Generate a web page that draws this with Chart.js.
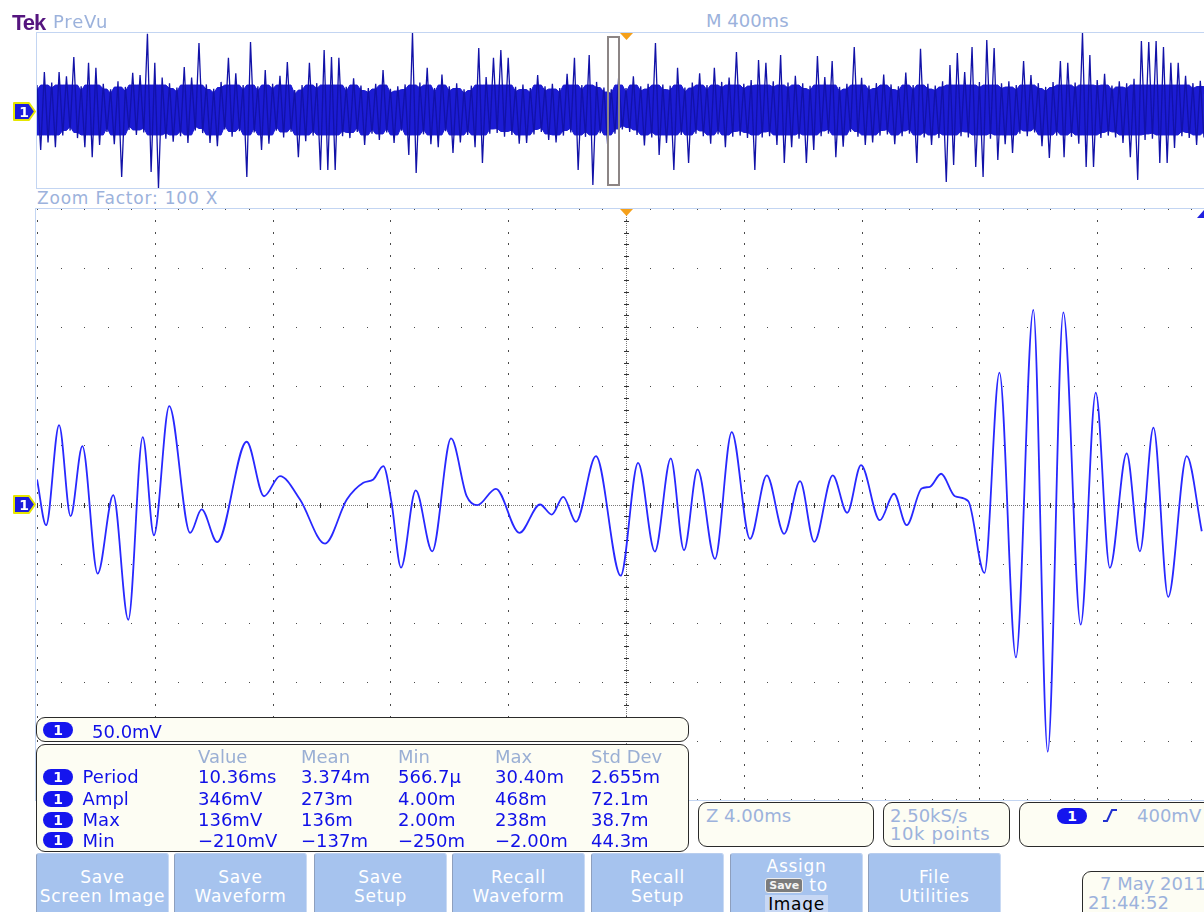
<!DOCTYPE html>
<html><head><meta charset="utf-8">
<script src="https://cdn.jsdelivr.net/npm/chart.js@4.4.0/dist/chart.umd.min.js"></script>
<style>
html,body{margin:0;padding:0;}
body{width:1204px;height:912px;overflow:hidden;position:relative;background:#fff;font-family:'DejaVu Sans',sans-serif;}
.a{position:absolute;white-space:nowrap;line-height:1;}
.lb{color:#9cb2dc;}
.box{position:absolute;border:1.5px solid #2a2a2a;border-radius:9px;background:#fdfdf3;box-sizing:border-box;}
.btn{position:absolute;top:853px;width:133px;height:70px;background:#a6c3ee;border-left:1px solid #8e9fbd;border-right:1px solid #c9daf4;border-top:1px solid #b8cdee;border-radius:3px 3px 0 0;box-sizing:border-box;color:#fff;text-align:center;font-size:17px;letter-spacing:0.7px;line-height:19px;padding-top:14px;}
.oval{position:absolute;width:30px;height:16px;border-radius:8px;background:#1515ee;color:#fff;font-weight:bold;font-size:14px;line-height:16px;text-align:center;}
.frame{position:absolute;background:#c3d5f2;}
</style></head><body>

<canvas id="prevu" class="a" width="1167" height="156" style="left:37px;top:32px;width:1167px;height:156px;"></canvas>
<canvas id="main" class="a" width="1167" height="591" style="left:37px;top:209px;width:1167px;height:591px;"></canvas>

<!-- frames -->
<div class="frame" style="left:36px;top:32px;width:1168px;height:1px;"></div>
<div class="frame" style="left:36px;top:188px;width:1168px;height:1px;"></div>
<div class="frame" style="left:36px;top:32px;width:1px;height:157px;"></div>
<div class="frame" style="left:36px;top:208px;width:1168px;height:1px;"></div>
<div class="frame" style="left:35px;top:208px;width:1px;height:593px;"></div>
<div class="frame" style="left:36px;top:800px;width:1168px;height:1px;"></div>
<div class="a" style="left:607px;top:36px;width:9px;height:146px;border:2px solid #8c8585;"></div>

<!-- header text -->
<div class="a" style="left:12px;top:11.5px;font-family:'Liberation Sans';font-weight:bold;font-size:22px;letter-spacing:-1px;color:#55157f;">Tek</div>
<div class="a lb" style="left:53px;top:13px;font-size:18px;letter-spacing:0.8px;">PreVu</div>
<div class="a lb" style="left:706px;top:12px;font-size:18px;">M 400ms</div>
<div class="a lb" style="left:37px;top:190px;font-size:17px;letter-spacing:0.8px;">Zoom Factor: 100 X</div>

<!-- bottom boxes -->
<div class="box" style="left:36px;top:717px;width:653px;height:25px;"></div>
<div class="oval" style="left:43px;top:722px;">1</div>
<div class="a" style="left:92px;top:722.6px;font-size:18px;color:#1010e8;">50.0mV</div>
<div class="box" id="meas" style="left:36px;top:744px;width:653px;height:108px;"></div>

<div class="box" style="left:698px;top:802px;width:176px;height:45px;"></div>
<div class="a lb" style="left:706px;top:806.5px;font-size:18px;">Z 4.00ms</div>
<div class="box" style="left:883px;top:802px;width:127px;height:45px;"></div>
<div class="a lb" style="left:890px;top:806.5px;font-size:18px;">2.50kS/s</div>
<div class="a lb" style="left:890px;top:825px;font-size:18px;letter-spacing:0.6px;">10k points</div>
<div class="box" style="left:1019px;top:802px;width:200px;height:45px;"></div>
<div class="oval" style="left:1057px;top:808px;">1</div>
<div class="a lb" style="left:1137px;top:806.5px;font-size:18px;">400mV</div>
<div class="box" style="left:1082px;top:871px;width:140px;height:50px;"></div>
<div class="a lb" style="left:1100px;top:875px;font-size:18px;">7 May 2011</div>
<div class="a lb" style="left:1088px;top:894px;font-size:18px;">21:44:52</div>

<svg class="a" style="left:0;top:0;z-index:5" width="1204" height="912">
  <polygon points="620,33 633,33 626.5,40" fill="#f5a01a"/>
  <polygon points="620,209 633,209 626.5,216" fill="#f5a01a"/>
  <polygon points="1204,210 1204,218 1197,218" fill="#2020e0"/>
  <polygon points="14,103 29,103 35,111.5 29,120 14,120" fill="#1c1cdc" stroke="#e6e600" stroke-width="2" stroke-linejoin="round"/>
  <text x="24" y="117" fill="#fff" font-family="DejaVu Sans" font-weight="bold" font-size="14" text-anchor="middle">1</text>
  <polygon points="14,496 29,496 35,504.5 29,513 14,513" fill="#1c1cdc" stroke="#e6e600" stroke-width="2" stroke-linejoin="round"/>
  <text x="24" y="510" fill="#fff" font-family="DejaVu Sans" font-weight="bold" font-size="14" text-anchor="middle">1</text>
  <polyline points="1103,821 1107,821 1112,810 1117,810" fill="none" stroke="#2030d0" stroke-width="2"/>
</svg>

<script>
// ---------------- DATA ----------------
// PreVu (overview) record: sample values in mV, one every 12.5 ms starting at -2 s
const prevuStart = -2.0;      // s
const prevuStep = 0.0125;     // s
const prevuValues = [
 80,-128,122,-104,88,-119,122,-82,108,-66,170,-90,76,-119,151,-151,135,-112,84,-70,
 66,-110,92,-215,74,-64,119,-80,112,-72,244,-199,151,-250,104,-92,86,-102,72,-84,
 138,-106,104,-66,215,-74,82,-106,68,-116,90,-62,167,-86,118,-68,80,-215,218,-72,
 76,-128,128,-108,84,-66,110,-88,154,-70,64,-151,80,-100,151,-82,86,-192,192,-192,
 170,-192,167,-84,74,-90,102,-70,78,-112,70,-76,84,-96,128,-72,68,-106,76,-66,
 82,-144,247,-202,88,-78,135,-110,70,-119,114,-68,76,-138,86,-104,66,-80,78,-119,
 199,-170,106,-76,167,-74,192,-86,167,-80,74,-108,82,-106,70,-78,112,-70,76,-96,
 84,-104,70,-82,116,-72,167,-192,80,-86,176,-240,90,-74,72,-110,66,-76,104,-62,
 70,-70,108,-80,76,-114,84,-88,215,-144,82,-106,78,-192,135,-80,72,-170,88,-76,
 118,-84,80,-108,135,-78,90,-119,104,-86,186,-82,84,-90,96,-192,160,-88,151,-84,
 92,-112,176,-170,88,-119,110,-92,86,-170,78,-128,173,-84,106,-76,157,-151,74,-118,
 84,-70,202,-86,103,-112,78,-104,86,-82,114,-78,82,-110,76,-84,120,-76,80,-170,
 196,-88,84,-112,78,-90,92,-231,144,-176,183,-84,122,-88,202,-183,90,-215,224,-92,
 199,-160,86,-110,92,-138,80,-76,157,-84,112,-72,86,-116,74,-154,90,-82,157,-151,
 151,-86,88,-108,247,-183,176,-183,96,-90,116,-82,78,-88,92,-106,86,-151,100,-224,
 221,-96,218,-92,221,-170,202,-170,151,-122,151,-84,110,-90,86,-112,94,-88
];

// Zoomed window: turning points of the trace (time in ms, voltage in mV)
const mainTimes = [
 -20.00,-19.69,-19.25,-18.86,-18.46,-17.94,-17.41,-16.90,-16.41,-16.03,
 -15.51,-14.80,-14.41,-13.88,-12.88,-12.29,-11.75,-11.07,-10.22,-9.48,
 -8.92,-8.58,-8.24,-7.96,-7.64,-7.14,-6.58,-5.94,-5.41,-5.05,
 -4.42,-3.62,-2.92,-2.52,-2.13,-1.70,-1.02,-0.18,0.41,0.98,
 1.52,1.97,2.43,3.02,3.59,4.21,4.78,5.37,5.91,6.39,
 7.02,7.51,7.98,8.62,9.10,9.53,10.04,10.32,10.70,11.17,
 11.62,12.17,12.68,13.24,13.83,14.32,14.85,15.44,15.95,16.43,
 17.00,17.45,17.91,18.41,19.04,19.55
];
const mainVolts = [
 21.2,-17.5,67.2,-9.9,49.4,-58.5,7.9,-97.5,57.0,-26.0,
 83.3,-24.0,-4.2,-31.9,53.1,7.0,24.0,4.2,-33.1,4.2,
 18.4,21.2,32.5,1.4,-53.4,11.9,-39.6,55.9,7.0,-0.6,
 13.3,-24.0,0.0,-8.5,6.5,-14.7,40.9,-60.2,35.3,-39.8,
 39.0,-38.7,29.7,-46.0,61.3,-29.1,24.6,-24.8,19.7,-31.6,
 24.6,-7.0,33.3,-13.3,9.1,-17.5,13.6,15.0,26.0,7.0,
 2.8,-57.9,111.6,-129.4,164.7,-209.1,162.5,-101.7,94.7,-53.6,
 43.2,-39.6,65.0,-78.2,40.9,-22.6
];

// Measurement readout
const measHeaders = ['Value','Mean','Min','Max','Std Dev'];
const measNames = ['Period','Ampl','Max','Min'];
const measPeriod = ['10.36ms','3.374m','566.7\u03bc','30.40m','2.655m'];
const measAmpl   = ['346mV','273m','4.00m','468m','72.1m'];
const measMax    = ['136mV','136m','2.00m','238m','38.7m'];
const measMin    = ['\u2212210mV','\u2212137m','\u2212250m','\u22122.00m','44.3m'];
const buttonLabels = ['Save<br>Screen Image','Save<br>Waveform','Save<br>Setup','Recall<br>Waveform','Recall<br>Setup','','File<br>Utilities'];

// ---------------- DOM text ----------------
const colX = [198,301,398,495,591];
const rowTop = [768,790.3,811.3,831.8];
function txt(s, x, top, size, color){
  const d=document.createElement('div'); d.className='a';
  d.style.cssText=`left:${x}px;top:${top}px;font-size:${size}px;color:${color};`;
  d.innerHTML=s; document.body.appendChild(d); return d;
}
measHeaders.forEach((h,i)=>txt(h,colX[i],747.6,18,'#9aafd4'));
const measRows=[measPeriod,measAmpl,measMax,measMin];
measNames.forEach((n,r)=>{
  const o=document.createElement('div'); o.className='oval';
  o.style.left='43px'; o.style.top=(rowTop[r]+0.5)+'px'; o.textContent='1'; document.body.appendChild(o);
  txt(n,82.6,rowTop[r],18,'#1010e8');
  measRows[r].forEach((v,c)=>txt(v,colX[c],rowTop[r],18,'#1010e8'));
});
const btnLeft=[36,174,314,452,591,730,868];
buttonLabels.forEach((l,i)=>{
  const b=document.createElement('div'); b.className='btn';
  b.style.left=btnLeft[i]+'px'; b.innerHTML=l;
  if(i===5){
    b.style.paddingTop='0px';
    b.innerHTML='<div style="margin-top:3px">Assign</div>'+
     '<div style="margin-top:0px"><span style="display:inline-block;background:#7c7c7c;color:#f4f4f4;font-size:11px;line-height:13px;padding:0 3px;border-radius:3px;border:1px solid #eee;font-weight:bold;letter-spacing:0;vertical-align:2px">Save</span> to</div>'+
     '<div style="display:inline-block;background:#c8d8f4;color:#000;padding:0 3px;margin-top:0px">Image</div>';
  }
  document.body.appendChild(b);
});

// ---------------- Charts ----------------
const noUI={legend:{display:false},tooltip:{enabled:false}};
const prevuPts = prevuValues.map((v,i)=>({x:prevuStart+i*prevuStep,y:v}));
// dense core of the decimated record: local envelope of neighbouring samples
const nb = (i)=>prevuValues.slice(Math.max(0,i-1),i+2);
const coreUpper = prevuValues.map((v,i)=>({x:prevuStart+i*prevuStep,y:Math.min(Math.max(...nb(i)),100)*0.8}));
const coreLower = prevuValues.map((v,i)=>({x:prevuStart+i*prevuStep,y:Math.max(Math.min(...nb(i)),-100)*0.8}));
new Chart(document.getElementById('prevu'),{
  type:'line',
  data:{datasets:[
    {data:prevuPts,borderColor:'#1212a8',borderWidth:1.3,pointRadius:0,tension:0,fill:false},
    {data:coreUpper,borderColor:'#1a1ad0',borderWidth:1,pointRadius:0,tension:0,fill:'+1',backgroundColor:'#1c1cd4'},
    {data:coreLower,borderColor:'#1a1ad0',borderWidth:1,pointRadius:0,tension:0,fill:false}
  ]},
  options:{responsive:false,animation:false,devicePixelRatio:1,events:[],
    layout:{padding:0},plugins:noUI,clip:false,
    scales:{x:{type:'linear',min:-2,max:1.9626,display:false},
            y:{type:'linear',min:-250,max:250,display:false}}}
});

const graticule={
  id:'graticule',
  beforeDatasetsDraw(chart){
    const {ctx,chartArea:a,scales:{x,y}}=chart;
    ctx.save();
    const P=(t)=>Math.round(x.getPixelForValue(t));
    const Q=(v)=>Math.min(Math.round(y.getPixelForValue(v)),a.bottom-1);
    ctx.fillStyle='#4a4a4a';
    for(let r=-5;r<=5;r++){ const py=Q(r*50);
      for(let c=0;c<=50;c++){ ctx.fillRect(P(-20+c*0.8),py,1,1); } }
    for(let c=0;c<=10;c++){ const px=P(-20+c*4);
      for(let r=-25;r<=25;r++){ ctx.fillRect(px,Q(r*10)-1,1,2); } }
    const cx=P(0),cy=Q(0);
    ctx.fillStyle='#7a7a7a';
    for(let px=a.left;px<a.right;px+=2) ctx.fillRect(px,cy,1,1);
    for(let py=a.top;py<a.bottom;py+=2) ctx.fillRect(cx,py,1,1);
    ctx.fillStyle='#333';
    for(let c=0;c<=50;c++){ ctx.fillRect(P(-20+c*0.8),cy-2,1,5); }
    for(let r=-25;r<=25;r++){ ctx.fillRect(cx-2,Q(r*10),5,1); }
    ctx.restore();
  }
};
new Chart(document.getElementById('main'),{
  type:'line',
  data:{datasets:[{
    data: mainTimes.map((t,i)=>({x:t,y:mainVolts[i]})),
    borderColor:'#2828ff',borderWidth:1.8,pointRadius:0,
    cubicInterpolationMode:'monotone',fill:false
  }]},
  options:{responsive:false,animation:false,devicePixelRatio:1,events:[],
    layout:{padding:0},plugins:noUI,
    scales:{x:{type:'linear',min:-20,max:19.626,display:false},
            y:{type:'linear',min:-250,max:250,display:false}}},
  plugins:[graticule]
});
</script>
</body></html>
